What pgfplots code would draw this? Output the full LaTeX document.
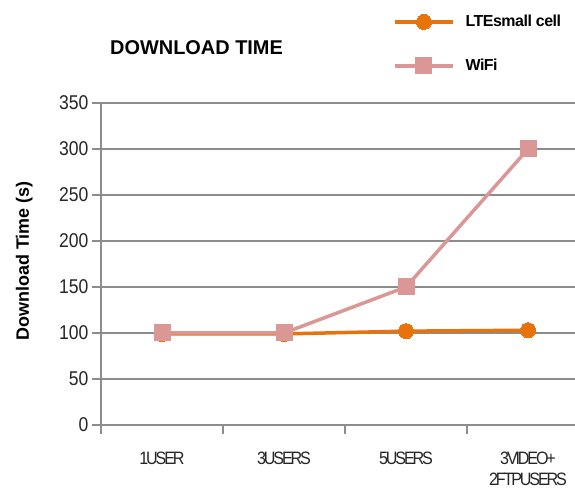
\documentclass[border=0pt]{standalone}
\usepackage{pgfplots}
\pgfplotsset{compat=1.18}
\usepackage{fontspec}
\setmainfont{Liberation Sans}
\newfontfamily\tickf[FakeStretch=0.88]{Liberation Sans}
\newfontfamily\xtickf[FakeStretch=0.9,LetterSpace=-12]{Liberation Sans}
\newfontfamily\legf[LetterSpace=-3]{Liberation Sans}
\definecolor{ltecol}{RGB}{232,114,12}
\definecolor{wificol}{RGB}{219,150,150}
\definecolor{axgray}{RGB}{140,140,140}
\begin{document}
\begin{tikzpicture}[x=1bp,y=1bp]
\path[use as bounding box] (-101,-66) rectangle (474,425);
\begin{axis}[
  at={(0,0)}, anchor=south west,
  scale only axis, width=474bp, height=322bp,
  xmin=-0.5, xmax=3.385, ymin=0, ymax=350,
  ytick={0,50,...,350},
  axis x line=bottom, axis y line=left,
  axis line style={-, draw=axgray, line width=1.6bp},
  ymajorgrids, grid style={draw=axgray, line width=1.3bp},
  xtick={0,1,2,3},
  xticklabels={1USER,3USERS,5USERS,{3VIDEO+\\2FTPUSERS}},
  minor xtick={-0.5,0.5,1.5,2.5},
  major x tick style={draw=none},
  tick style={draw=axgray, line width=1.4bp},
  tick align=outside,
  major tick length=9bp, minor tick length=9bp,
  xticklabel style={align=center, font=\xtickf\fontsize{18}{22}\selectfont, yshift=-14bp, text=black!85},
  yticklabel style={font=\tickf\fontsize{20}{22}\selectfont, text=black!85},
  /pgf/number format/assume math mode=true,
  ylabel={\bfseries Download Time (s)},
  ylabel style={font=\fontsize{18}{20}\selectfont, at={(axis description cs:-0.162,0.509)}, anchor=center},
  legend style={at={(0.616,1.282)}, anchor=north west, draw=none, fill=none,
    font=\legf\bfseries\fontsize{16}{18}\selectfont, row sep=25bp, inner sep=0pt,
    nodes={inner sep=3bp}},
  legend cell align=left,
  legend image code/.code={\draw[#1, mark repeat=2, mark phase=2] plot coordinates {(0bp,0bp) (29bp,0bp) (58bp,0bp)};},
]
\addplot[color=ltecol, line width=3.5bp, mark=*, mark size=7.5bp, mark options={fill=ltecol, draw=ltecol, line width=0pt}]
  coordinates {(0,99) (1,99) (2,102) (3,103)};
\addlegendentry{~~LTEsmall cell}
\addplot[color=wificol, line width=3.5bp, mark=square*, mark size=8bp, mark options={fill=wificol, draw=wificol, line width=0pt}]
  coordinates {(0,100) (1,100) (2,150) (3,300)};
\addlegendentry{~~WiFi}
\end{axis}
\node[anchor=west, font=\bfseries\fontsize{20}{22}\selectfont, inner sep=0pt] at (9,377) {DOWNLOAD TIME};
\end{tikzpicture}
\end{document}
